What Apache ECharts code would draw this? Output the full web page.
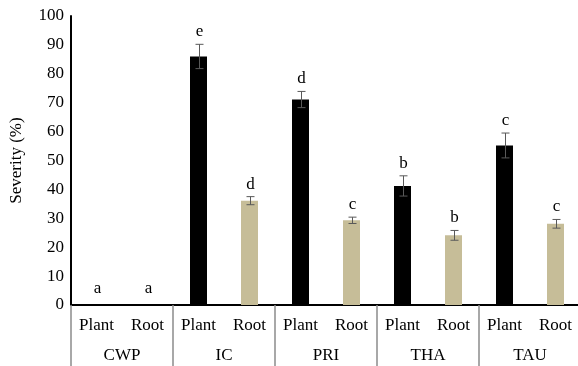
<!DOCTYPE html>
<html><head><meta charset="utf-8">
<script src="https://cdn.jsdelivr.net/npm/echarts@6/dist/echarts.min.js"></script>
<style>html,body{margin:0;padding:0;background:#fff;overflow:hidden}#c{width:584px;height:366px}</style>
</head><body><div id="c"></div>
<script>
const groups = ['CWP', 'IC', 'PRI', 'THA', 'TAU'];
const parts = ['Plant', 'Root'];
const values = [0, 0, 86.0, 36.1, 71.1, 29.3, 41.2, 24.1, 55.2, 28.1];
const errors = [0, 0, 4.2, 1.4, 2.8, 1.1, 3.5, 1.7, 4.3, 1.5];
const letters = ['a', 'a', 'e', 'd', 'd', 'c', 'b', 'b', 'c', 'c'];
const yTicks = [0, 10, 20, 30, 40, 50, 60, 70, 80, 90, 100];

const cats = [];
groups.forEach(g => parts.forEach(p => cats.push(p)));
const FONT = 'Liberation Serif';
const FS = 17;

const chart = echarts.init(document.getElementById('c'), null, {renderer: 'canvas'});
chart.setOption({
  animation: false,
  grid: {left: 71, right: 3, top: 16, bottom: 61, containLabel: false},
  xAxis: [{
    type: 'category', data: cats, position: 'bottom',
    axisLine: {show: true, lineStyle: {color: '#000', width: 2}},
    axisTick: {show: false},
    axisLabel: {fontFamily: FONT, fontSize: FS, color: '#000', margin: 12, interval: 0}
  }, {
    type: 'category', data: groups, position: 'bottom',
    axisLine: {show: false},
    axisTick: {show: true, length: 62, lineStyle: {color: '#8c8c8c', width: 1.5}},
    axisLabel: {fontFamily: FONT, fontSize: FS, color: '#000', margin: 42, interval: 0}
  }],
  yAxis: {
    type: 'value', min: 0, max: 100, interval: 10,
    name: 'Severity (%)', nameLocation: 'middle', nameGap: 46,
    nameTextStyle: {fontFamily: FONT, fontSize: FS, color: '#000'},
    axisLine: {show: true, lineStyle: {color: '#000', width: 2}},
    axisTick: {show: false},
    splitLine: {show: false},
    axisLabel: {fontFamily: FONT, fontSize: FS, color: '#000', margin: 7,
      formatter: v => yTicks.includes(v) ? String(v) : ''}
  },
  series: [{
    type: 'bar', xAxisIndex: 0, barWidth: 17,
    data: values.map((v, i) => ({value: v, itemStyle: {color: i % 2 === 0 ? '#000' : '#c6bd98'}}))
  }, {
    type: 'custom', xAxisIndex: 0,
    data: values.map((v, i) => [i, v, errors[i], letters[i]]),
    renderItem: (params, api) => {
      const i = api.value(0), v = api.value(1), e = api.value(2);
      const top = api.coord([i, v + e]);
      const bot = api.coord([i, v - e]);
      const x = Math.round(top[0]) + 0.5;
      const children = [];
      if (e > 0) {
        const st = {stroke: '#595959', lineWidth: 1};
        children.push({type: 'line', shape: {x1: x, y1: top[1], x2: x, y2: bot[1]}, style: st});
        children.push({type: 'line', shape: {x1: x - 4, y1: top[1], x2: x + 4, y2: top[1]}, style: st});
        children.push({type: 'line', shape: {x1: x - 4, y1: bot[1], x2: x + 4, y2: bot[1]}, style: st});
      }
      children.push({type: 'text', style: {
        x: x, y: top[1] - (e > 0 ? 4 : 8), text: letters[i],
        fontFamily: FONT, fontSize: FS, fill: '#000',
        align: 'center', verticalAlign: 'bottom'
      }});
      return {type: 'group', children: children};
    },
    z: 5
  }]
});
</script></body></html>
